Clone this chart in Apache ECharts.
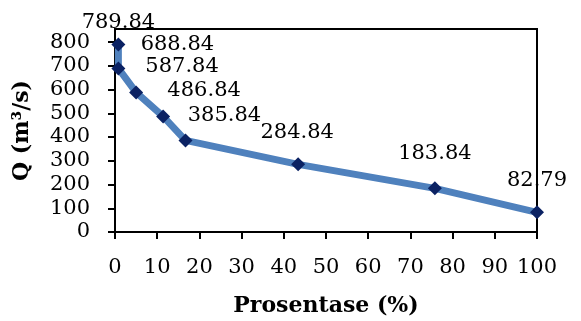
<!DOCTYPE html>
<html>
<head>
<meta charset="utf-8">
<script src="https://cdn.jsdelivr.net/npm/echarts@6/dist/echarts.min.js"></script>
<style>
  html, body { margin: 0; padding: 0; background: #fff; }
  #chart { width: 581px; height: 321px; }
</style>
</head>
<body>
<div id="chart"></div>
<script>
// Discharge vs. exceedance percentage
const percent = [0.8, 0.8, 5.0, 11.4, 16.7, 43.4, 75.8, 100];
const discharge = [789.84, 688.84, 587.84, 486.84, 385.84, 284.84, 183.84, 82.79];
const yTicks = [0, 100, 200, 300, 400, 500, 600, 700, 800];

// hand-placed label offsets (dx, dy) from each marker
const labelShift = [[0, -22], [59, -24], [46, -26], [41, -26], [39, -25], [-1, -32], [0, -35], [0, -32]];

const font = 'DejaVu Serif';
const chart = echarts.init(document.getElementById('chart'));

chart.setOption({
  animation: false,
  grid: {
    left: 115, right: 44, top: 29, bottom: 89,
    outerBoundsMode: 'none',
    containLabel: false,
    show: true, borderColor: '#000', borderWidth: 2
  },
  xAxis: {
    type: 'value', min: 0, max: 100, interval: 10,
    name: 'Prosentase (%)', nameLocation: 'middle', nameGap: 63,
    nameTextStyle: { fontFamily: font, fontWeight: 'bold', fontSize: 22, color: '#000' },
    axisLine: { show: true, lineStyle: { color: '#000', width: 2 } },
    axisTick: { show: true, length: 7, lineStyle: { color: '#000', width: 2 } },
    axisLabel: { fontFamily: font, fontSize: 21, color: '#000', margin: 25 },
    splitLine: { show: false }
  },
  yAxis: {
    type: 'value', min: 0, max: 855,
    name: 'Q (m³/s)', nameLocation: 'middle', nameGap: 82,
    nameTextStyle: { fontFamily: font, fontWeight: 'bold', fontSize: 22, color: '#000' },
    axisLine: { show: true, lineStyle: { color: '#000', width: 2 } },
    axisTick: { show: true, length: 7, lineStyle: { color: '#000', width: 2 }, customValues: yTicks },
    axisLabel: { fontFamily: font, fontSize: 21, color: '#000', margin: 25, customValues: yTicks },
    splitLine: { show: false }
  },
  series: [{
    type: 'line',
    data: percent.map((x, i) => ({
      value: [x, discharge[i]],
      label: { offset: labelShift[i] }
    })),
    lineStyle: { color: '#4F81BD', width: 7 },
    symbol: 'diamond',
    symbolSize: 14,
    itemStyle: { color: '#0B2263' },
    label: {
      show: true,
      position: 'inside',
      formatter: p => discharge[p.dataIndex].toFixed(2),
      fontFamily: font, fontSize: 21, color: '#000'
    },
    z: 3
  }]
});
</script>
</body>
</html>
